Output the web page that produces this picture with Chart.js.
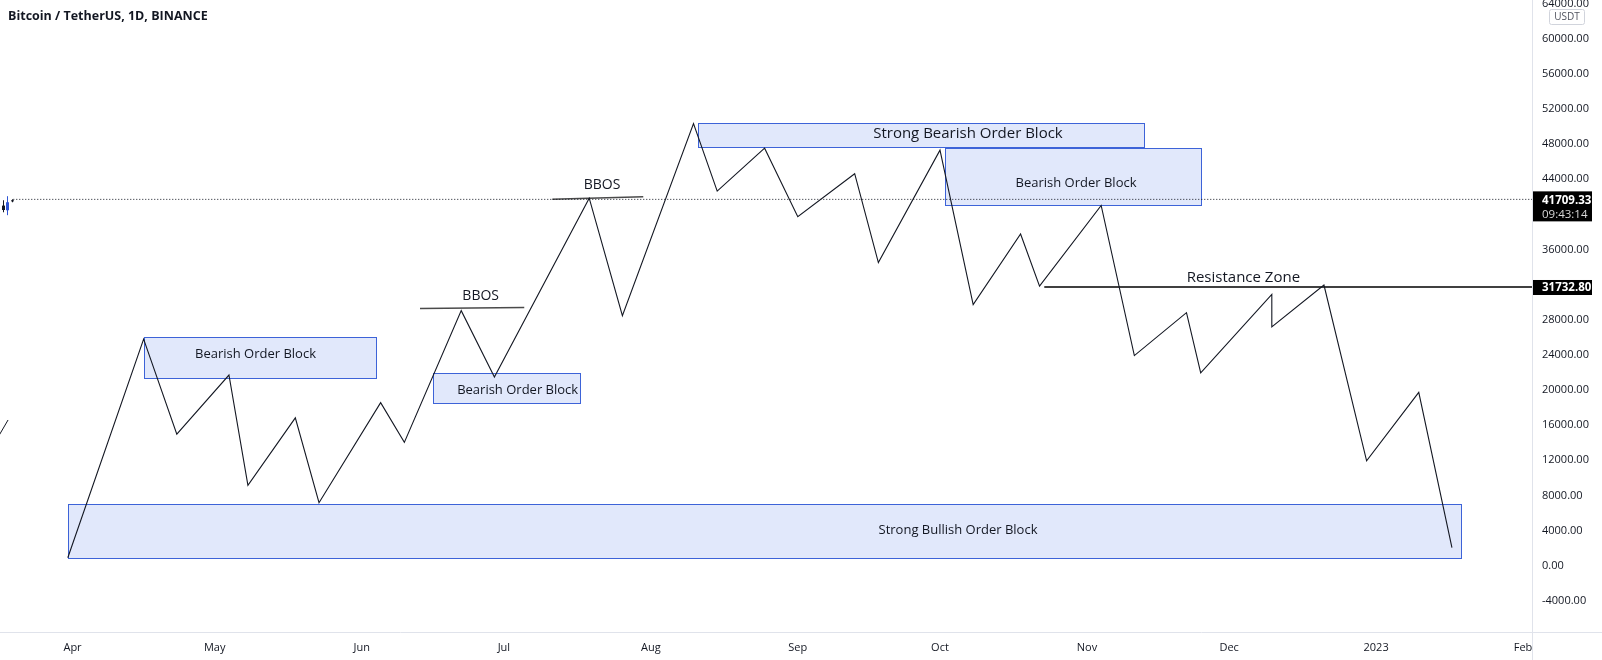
<!DOCTYPE html>
<html>
<head>
<meta charset="utf-8">
<title>Bitcoin / TetherUS, 1D, BINANCE</title>
<script src="https://cdn.jsdelivr.net/npm/chart.js@4.4.1/dist/chart.umd.min.js"></script>
<style>
  html, body { margin: 0; padding: 0; background: #fff; }
  #wrap { width: 1602px; height: 660px; }
</style>
</head>
<body>
<div id="wrap"><canvas id="chart" width="1602" height="660"></canvas></div>
<script>
// DATA
// x = days counted from 1 Apr 2022, y = price in USDT
// ============================================================
const pathDays   = [-1, 15, 22, 33, 37, 47, 52, 65, 70, 82, 89, 109, 116, 131, 136, 146, 153, 165, 170, 183, 190, 200, 204, 217, 224, 235, 238, 253, 253, 264, 273, 284, 291];
const pathPrices = [900, 25790, 14970, 21710, 9150, 16830, 7170, 18570, 14040, 29040, 21480, 41840, 28460, 50330, 42650, 47540, 39740, 44630, 34510, 47310, 29740, 37770, 31830, 41020, 23920, 28810, 21950, 30900, 27190, 31950, 11940, 19740, 2060];

// stray piece of an older drawing, cut by the left edge
const strayDays   = [-20, -13.6];
const strayPrices = [10670, 16590];

// order blocks
const blockNames  = ['Strong Bullish Order Block', 'Bearish Order Block', 'Bearish Order Block', 'Strong Bearish Order Block', 'Bearish Order Block'];
const blockStart  = [-1, 15, 76, 132, 184];
const blockEnd    = [293, 64, 107, 226, 238];
const blockTop    = [7060, 26070, 21940, 50440, 47560];
const blockBottom = [900, 21400, 18570, 47670, 41020];
const blockLabelDay   = [186.8, 38.6, 93.9, 188.9, 211.7];
const blockLabelPrice = [4065, 24110, 20010, 49150, 43560];

// break of structure marks + resistance
const bbos1Days = [73.3, 95.3],   bbos1Prices = [29270, 29400];
const bbos2Days = [101.2, 120.4], bbos2Prices = [41730, 42000];
const resistanceDays = [205, 308.1];
const resistancePrice = 31732.80;
const noteTexts  = ['BBOS', 'BBOS', 'Resistance Zone'];
const noteDays   = [86.1, 111.7, 247];
const notePrices = [30670, 43350, 32790];

// last price line and the few real candles at the left edge
const lastPrice = 41709.33;
const lastPriceDays = [-12.5, 308.1];
const countdown = '09:43:14';
const candleDays  = [-14.6, -13.8, -12.8];
const candleOpen  = [41000, 41380, 41600];
const candleHigh  = [41610, 42070, 41720];
const candleLow   = [40240, 39910, 41380];
const candleClose = [40500, 40470, 41500];

// axes
const xMin = -15.3, xMax = 308.1;
const yMin = -7549, yMax = 64409;
const xTickDays   = [0, 30, 61, 91, 122, 153, 183, 214, 244, 275, 306];
const xTickLabels = ['Apr', 'May', 'Jun', 'Jul', 'Aug', 'Sep', 'Oct', 'Nov', 'Dec', '2023', 'Feb'];
const yTicks = [-4000, 0, 4000, 8000, 12000, 16000, 20000, 24000, 28000, 32000, 36000, 40000, 44000, 48000, 52000, 56000, 60000, 64000];

// HELPERS
// ============================================================
const FONT = "'Open Sans', sans-serif";
const INK = '#131722';
const pts = (xs, ys) => xs.map((x, i) => ({ x, y: Array.isArray(ys) ? ys[i] : ys }));

function segment(data, color, width, dash) {
  return { data, borderColor: color, borderWidth: width, borderDash: dash || [], pointRadius: 0, tension: 0, fill: false };
}

// the plot runs right up to the canvas edges, so drop the label padding
function noPadding(s) {
  s.paddingTop = 0; s.paddingBottom = 0; s.paddingLeft = 0; s.paddingRight = 0;
}

// PLUGINS
// ============================================================
const blocksPlugin = {
  id: 'blocks',
  beforeDatasetsDraw(chart) {
    const { ctx, scales: { x, y } } = chart;
    ctx.save();
    blockNames.forEach((name, i) => {
      const l = Math.round(x.getPixelForValue(blockStart[i])) + 0.5;
      const r = Math.round(x.getPixelForValue(blockEnd[i])) + 0.5;
      const t = Math.round(y.getPixelForValue(blockTop[i])) + 0.5;
      const b = Math.round(y.getPixelForValue(blockBottom[i])) + 0.5;
      ctx.fillStyle = '#e1e8fb';
      ctx.fillRect(l, t, r - l, b - t);
      ctx.strokeStyle = '#3d63d8';
      ctx.lineWidth = 1;
      ctx.strokeRect(l, t, r - l, b - t);
      ctx.fillStyle = INK;
      ctx.font = `${name === 'Strong Bearish Order Block' ? 15 : 13}px ${FONT}`;
      ctx.textAlign = 'center';
      ctx.textBaseline = 'middle';
      ctx.fillText(name, x.getPixelForValue(blockLabelDay[i]), y.getPixelForValue(blockLabelPrice[i]));
    });
    ctx.restore();
  },
  afterDatasetsDraw(chart) {
    const { ctx, scales: { x, y } } = chart;
    ctx.save();
    ctx.fillStyle = INK;
    ctx.textAlign = 'center';
    ctx.textBaseline = 'middle';
    noteTexts.forEach((t, i) => {
      ctx.font = `${t === 'BBOS' ? 14 : 15}px ${FONT}`;
      ctx.fillText(t, x.getPixelForValue(noteDays[i]), y.getPixelForValue(notePrices[i]));
    });
    // candles
    candleDays.forEach((d, i) => {
      const cx = Math.round(x.getPixelForValue(d)) + 0.5;
      const col = i === 1 ? '#2f55d4' : '#131722';
      ctx.strokeStyle = col;
      ctx.lineWidth = 1;
      ctx.beginPath();
      ctx.moveTo(cx, y.getPixelForValue(candleHigh[i]));
      ctx.lineTo(cx, y.getPixelForValue(candleLow[i]));
      ctx.stroke();
      const o = y.getPixelForValue(candleOpen[i]), c = y.getPixelForValue(candleClose[i]);
      ctx.fillStyle = col;
      ctx.fillRect(cx - 1.5, Math.min(o, c), 3, Math.max(1, Math.abs(o - c)));
    });
    ctx.restore();
  }
};

const framePlugin = {
  id: 'frame',
  afterDraw(chart) {
    const { ctx, chartArea: a, scales: { y } } = chart;
    ctx.save();
    // axis borders run across the full canvas
    ctx.strokeStyle = '#e0e3eb';
    ctx.lineWidth = 1;
    ctx.beginPath();
    ctx.moveTo(Math.round(a.right) - 0.5, 0);
    ctx.lineTo(Math.round(a.right) - 0.5, chart.height);
    ctx.moveTo(0, Math.round(a.bottom) + 0.5);
    ctx.lineTo(chart.width, Math.round(a.bottom) + 0.5);
    ctx.stroke();

    // price tags
    const tagX = a.right, tagW = 59;
    const lp = y.getPixelForValue(lastPrice);
    ctx.fillStyle = '#000';
    ctx.fillRect(tagX, lp - 8, tagW, 30);
    const rp = y.getPixelForValue(resistancePrice);
    ctx.fillRect(tagX, rp - 7, tagW, 15);
    ctx.textAlign = 'left';
    ctx.textBaseline = 'middle';
    ctx.fillStyle = '#fff';
    ctx.font = `bold 11.5px ${FONT}`;
    ctx.fillText(lastPrice.toFixed(2), tagX + 9, lp + 1);
    ctx.fillText(resistancePrice.toFixed(2), tagX + 9, rp + 1);
    ctx.fillStyle = '#d8d8d8';
    ctx.font = `11.5px ${FONT}`;
    ctx.fillText(countdown, tagX + 9, lp + 15);

    // currency badge
    ctx.fillStyle = '#fff';
    ctx.strokeStyle = '#d1d4dc';
    ctx.beginPath();
    ctx.roundRect(1549.5, 9.5, 35, 15, 2);
    ctx.fill();
    ctx.stroke();
    ctx.fillStyle = '#50535e';
    ctx.font = `10px ${FONT}`;
    ctx.textAlign = 'center';
    ctx.fillText('USDT', 1567, 17.5);

    // symbol title
    ctx.fillStyle = INK;
    ctx.font = `bold 12.5px ${FONT}`;
    ctx.textAlign = 'left';
    ctx.fillText('Bitcoin / TetherUS, 1D, BINANCE', 8, 16);
    ctx.restore();
  }
};

// CHART
// ============================================================
Chart.defaults.font.family = FONT;
Chart.defaults.color = INK;

new Chart(document.getElementById('chart'), {
  type: 'line',
  data: {
    datasets: [
      segment(pts(lastPriceDays, lastPrice), '#131722', 1, [1, 2]),
      segment(pts(strayDays, strayPrices), '#131722', 1),
      segment(pts(pathDays, pathPrices), '#131722', 1.1),
      segment(pts(bbos1Days, bbos1Prices), '#4a4a4a', 1.5),
      segment(pts(bbos2Days, bbos2Prices), '#4a4a4a', 1.5),
      segment(pts(resistanceDays, resistancePrice), '#000', 1.5),
    ]
  },
  options: {
    responsive: false,
    animation: false,
    layout: { padding: 0 },
    plugins: { legend: { display: false }, tooltip: { enabled: false } },
    scales: {
      x: {
        type: 'linear', min: xMin, max: xMax,
        grid: { display: false, drawTicks: false },
        border: { display: false },
        afterBuildTicks: s => { s.ticks = xTickDays.map(v => ({ value: v })); },
        afterFit: s => { s.height = 28; noPadding(s); },
        ticks: {
          autoSkip: false, maxRotation: 0, padding: 9,
          font: { size: 11 }, color: INK,
          callback: v => xTickLabels[xTickDays.indexOf(v)] ?? ''
        }
      },
      y: {
        type: 'linear', position: 'right', min: yMin, max: yMax,
        grid: { display: false, drawTicks: false },
        border: { display: false },
        afterBuildTicks: s => { s.ticks = yTicks.map(v => ({ value: v })); },
        afterFit: s => { s.width = 69; noPadding(s); },
        ticks: {
          autoSkip: false, padding: 9,
          font: { size: 11 }, color: INK,
          callback: v => v.toFixed(2)
        }
      }
    }
  },
  plugins: [blocksPlugin, framePlugin]
});
</script>
</body>
</html>
